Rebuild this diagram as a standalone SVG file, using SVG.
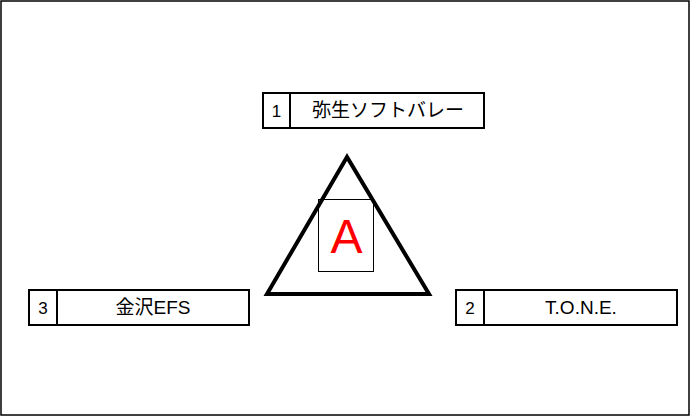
<svg xmlns="http://www.w3.org/2000/svg" width="690" height="416" viewBox="0 0 690 416">
<style>
.box{fill:#fff;stroke:#000;stroke-width:2}
.t{font-family:"Liberation Sans","Noto Sans CJK JP",sans-serif;font-size:19px;fill:#000;text-anchor:middle}
.n{font-family:"Liberation Sans",sans-serif;font-size:17px;fill:#000;text-anchor:middle}
</style>
<rect x="1" y="1" width="688" height="414" fill="#fff" stroke="#000" stroke-width="1.5"/>
<g id="triangle">
<polygon points="347,157 267,294 429,294" fill="none" stroke="#000" stroke-width="4" stroke-linejoin="miter"/>
</g>
<g id="labelA">
<rect x="318.5" y="199.5" width="55" height="72" fill="none" stroke="#000" stroke-width="1"/>
<text x="346.5" y="253" font-family="Liberation Sans,sans-serif" font-size="48" fill="#f00" text-anchor="middle">A</text>
</g>
<g id="node1">
<rect class="box" x="263" y="93" width="221" height="35"/>
<line x1="290" y1="93" x2="290" y2="128" stroke="#000" stroke-width="2"/>
<text class="n" x="276.5" y="116.5">1</text>
<text class="t" x="388" y="117">弥生ソフトバレー</text>
</g>
<g id="node2">
<rect class="box" x="456" y="290" width="221" height="35"/>
<line x1="484" y1="290" x2="484" y2="325" stroke="#000" stroke-width="2"/>
<text class="n" x="470" y="313.5">2</text>
<text class="t" x="581" y="314">T.O.N.E.</text>
</g>
<g id="node3">
<rect class="box" x="29" y="290" width="220" height="35"/>
<line x1="57" y1="290" x2="57" y2="325" stroke="#000" stroke-width="2"/>
<text class="n" x="43" y="313.5">3</text>
<text class="t" x="153" y="314">金沢EFS</text>
</g>
<g id="connectors"></g>
</svg>
